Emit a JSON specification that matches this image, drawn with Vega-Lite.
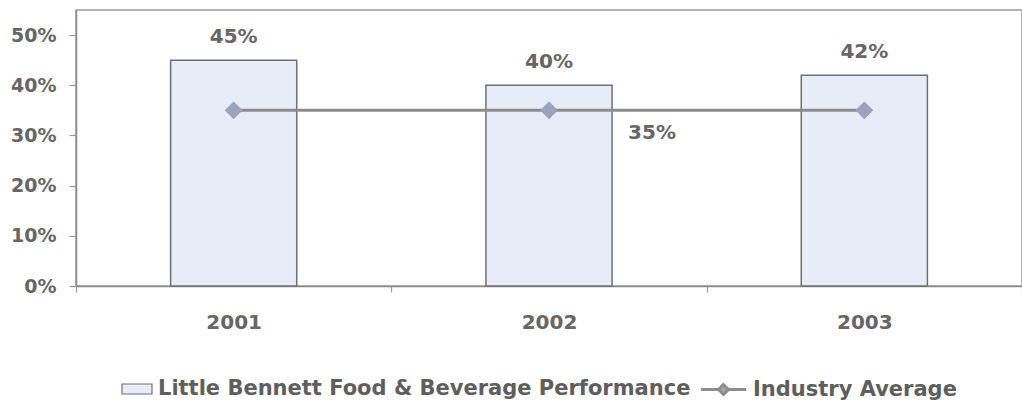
{
  "$schema": "https://vega.github.io/schema/vega-lite/v6.json",
  "autosize": {"type": "none"},
  "padding": {"left": 76, "top": 10, "right": 0, "bottom": 119},
  "width": 946,
  "height": 276,
  "background": "white",
  "config": {
    "font": "DejaVu Sans",
    "view": {"stroke": "#9a9a9a", "strokeWidth": 1.5},
    "axis": {"labelFont": "DejaVu Sans", "labelFontWeight": "bold", "labelColor": "#666666", "labelFontSize": 19, "domainColor": "#8a8a8a", "tickColor": "#9a9a9a", "domainWidth": 1.5, "tickWidth": 1.2, "grid": false, "title": null}
  },
  "data": {"values": [
    {"year": "2001", "performance": 0.45, "industry": 0.35, "label": ""},
    {"year": "2002", "performance": 0.40, "industry": 0.35, "label": "35%"},
    {"year": "2003", "performance": 0.42, "industry": 0.35, "label": ""}
  ]},
  "encoding": {
    "x": {"field": "year", "type": "nominal", "scale": {"paddingInner": 0, "paddingOuter": 0},
      "axis": {"labelAngle": 0, "tickBand": "extent", "tickSize": 6, "labelPadding": 20, "labelFontSize": 20}}
  },
  "layer": [
    {
      "mark": {"type": "bar", "stroke": "#707070", "strokeWidth": 1.5, "width": {"band": 0.4}},
      "encoding": {
        "y": {"field": "performance", "type": "quantitative", "scale": {"domain": [0, 0.55]},
          "axis": {"values": [0, 0.1, 0.2, 0.3, 0.4, 0.5], "format": ".0%", "tickSize": 7, "labelPadding": 13}},
        "fill": {"datum": "Little Bennett Food & Beverage Performance", "type": "nominal",
          "scale": {"range": ["#e7ecf8"]},
          "legend": {"orient": "none", "legendX": 50, "legendY": 368, "padding": 0, "title": null, "symbolType": "M-1.5,-0.5H1.5V0.5H-1.5Z", "symbolSize": 400, "symbolStrokeColor": "#707070", "symbolStrokeWidth": 1.2, "labelOffset": 10, "labelFontSize": 21, "labelFontWeight": "bold", "labelColor": "#5e5e5e", "labelFont": "DejaVu Sans", "labelLimit": 800}}
      }
    },
    {
      "mark": {"type": "text", "baseline": "bottom", "dy": -13, "fontSize": 20, "fontWeight": "bold", "color": "#666666"},
      "encoding": {
        "y": {"field": "performance", "type": "quantitative"},
        "text": {"field": "performance", "type": "quantitative", "format": ".0%"}
      }
    },
    {
      "mark": {"type": "line", "strokeWidth": 3},
      "encoding": {
        "y": {"field": "industry", "type": "quantitative"},
        "stroke": {"datum": "Industry Average", "type": "nominal",
          "scale": {"range": ["#8c8c8c"]},
          "legend": {"orient": "none", "legendX": 636, "legendY": 368, "padding": 0, "title": null, "symbolType": "M-2.25,0H-0.5M0.5,0H2.25M0,-0.5L0.5,0L0,0.5L-0.5,0Z", "symbolSize": 400, "symbolFillColor": "#9ba3bd", "symbolStrokeWidth": 3, "labelOffset": 18, "labelFontSize": 21, "labelFontWeight": "bold", "labelColor": "#5e5e5e", "labelFont": "DejaVu Sans", "labelLimit": 400}}
      }
    },
    {
      "mark": {"type": "point", "shape": "diamond", "size": 320, "filled": true, "color": "#9ba3bd", "opacity": 1},
      "encoding": {
        "y": {"field": "industry", "type": "quantitative"}
      }
    },
    {
      "mark": {"type": "text", "baseline": "top", "dx": 103, "dy": 13, "fontSize": 20, "fontWeight": "bold", "color": "#666666"},
      "encoding": {
        "y": {"field": "industry", "type": "quantitative"},
        "text": {"field": "label", "type": "nominal"}
      }
    }
  ]
}
